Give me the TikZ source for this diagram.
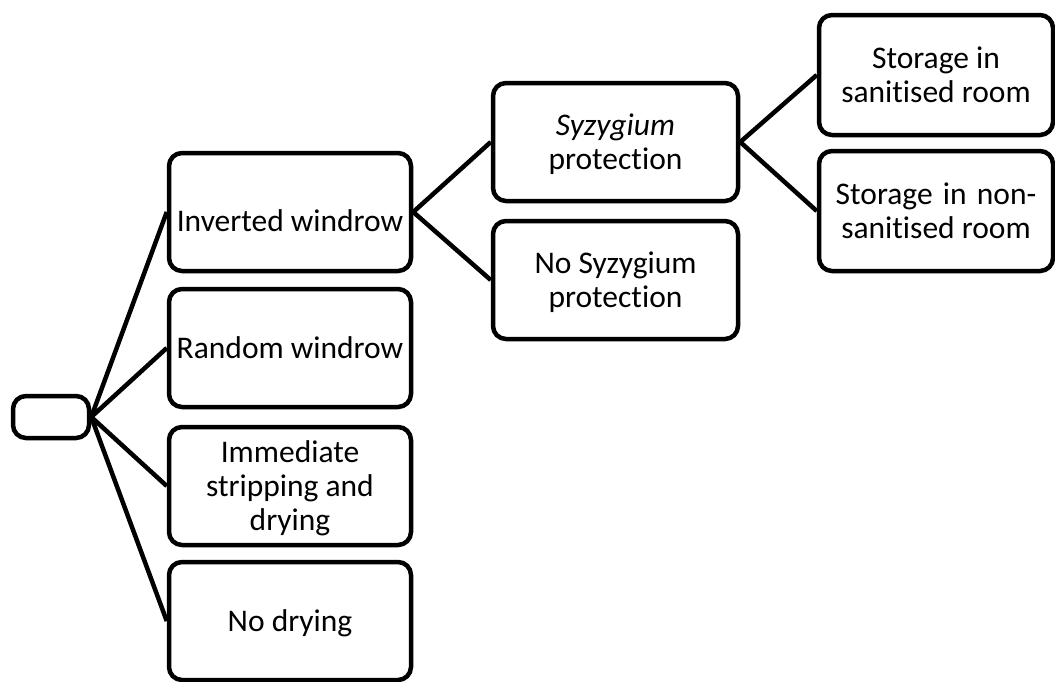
\documentclass[tikz,border=0pt]{standalone}
\usepackage{fontspec}
\setmainfont{Carlito}[Ligatures=NoCommon]
\newcommand{\ls}{\rule[-6pt]{0pt}{32pt}}
\tikzset{
  box/.style={draw=black, line width=4.5pt, rounded corners=13pt, inner sep=0pt,
    align=center, font=\fontsize{31.5}{34}\selectfont, fill=white},
  rootbox/.style={box, minimum width=76pt, minimum height=42pt},
  lone/.style={box, minimum width=242pt, minimum height=118pt},
  ltwo/.style={box, minimum width=245pt, minimum height=118pt},
  lthree/.style={box, minimum width=234pt, minimum height=120pt},
  conn/.style={draw=black, line width=4.5pt}
}
\begin{document}
\begin{tikzpicture}[x=1pt, y=-1pt]
\useasboundingbox (0,0) rectangle (1055,681);
\node[rootbox] (root) at (51,417) {};
\node[lone] (inv) at (290,212) {\raisebox{-9pt}[26pt][6pt]{\ls Inverted windrow}};
\node[lone] (rand) at (290,348) {\ls Random windrow};
\node[lone] (imm) at (290,486) {\ls Immediate\\\ls stripping and\\\ls drying};
\node[lone] (nod) at (290,621) {\ls No drying};
\node[ltwo] (syz) at (615.5,142) {\ls\textit{Syzygium}\\\ls protection};
\node[ltwo] (nosyz) at (615.5,280) {\ls No Syzygium\\\ls protection};
\node[lthree] (san) at (936,75) {\ls Storage in\\\ls sanitised room};
\node[lthree] (nonsan) at (936,211) {\ls Storage\hspace{0.1em} in\hspace{0.1em} non-\\\ls sanitised room};
\draw[conn] (root.east) -- (inv.west);
\draw[conn] (root.east) -- (rand.west);
\draw[conn] (root.east) -- (imm.west);
\draw[conn] (root.east) -- (nod.west);
\draw[conn] (inv.east) -- (syz.west);
\draw[conn] (inv.east) -- (nosyz.west);
\draw[conn] (syz.east) -- (san.west);
\draw[conn] (syz.east) -- (nonsan.west);
\end{tikzpicture}
\end{document}
